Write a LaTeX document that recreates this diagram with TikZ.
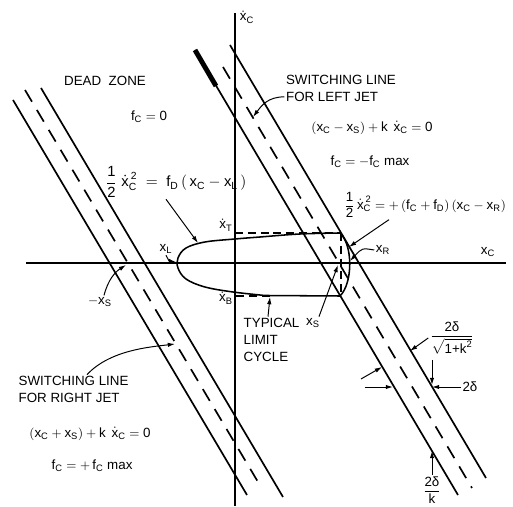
\documentclass[tikz,border=0pt]{standalone}
\usepackage{amsmath}
\usepackage{fontspec}
\setmainfont{Liberation Sans}
\usetikzlibrary{arrows.meta}
\newcommand{\vx}[1]{\text{x}_{\text{#1}}}
\newcommand{\vxd}[1]{\dot{\text{x}}_{\text{#1}}}
\newcommand{\vf}[1]{\text{f}_{\text{#1}}}
\newcommand{\half}{\dfrac{\text{1}}{\text{2}}}

\begin{document}
\begin{tikzpicture}[x=0.25mm,y=-0.25mm,
  lbl/.style={font=\fontsize{9.5}{12}\selectfont,inner sep=1pt},
  band/.style={line width=1.2pt},
  midline/.style={line width=1.2pt,dash pattern=on 3.4mm off 2.4mm},
  guide/.style={line width=0.9pt,dash pattern=on 2mm off 1.2mm},
  lead/.style={line width=0.7pt,-{Latex[length=1.8mm,width=1.1mm]}}]
  \useasboundingbox (0,0) rectangle (513,507);

  \draw[line width=1pt] (235,13) -- (235,506);
  \draw[line width=1pt] (26,263) -- (506,263);
  \node[lbl] (xdc) at (247,17) {$\vxd{C}$};
  \node[lbl] (xc) at (488,252) {$\vx{C}$};

  \draw[band] (195,50) -- (458,495);
  \draw[line width=3.5pt] (195,50) -- (216,86);
  \draw[midline] (223,67) -- (472,488);
  \draw[band] (230,45) -- (486,478);

  \draw[band] (13,100) -- (247,495);
  \draw[midline] (25,90) -- (261,487);
  \draw[band] (41,88) -- (283,497);

  \draw[guide] (235,233) -- (340,233);
  \draw[guide] (236,296) -- (273,296);
  \draw[guide] (341,233) -- (341,296);
  \draw[line width=1.1pt] plot[smooth,tension=0.6] coordinates {(340,233) (300,234)
    (260,237) (235,239) (205,242) (186,248) (178,258) (178,268) (186,279)
    (205,287) (233,292) (265,295.5)} -- (340,296)
    .. controls (353,283) and (353,245) .. (340,233);

  \node[lbl] (dead) at (105,81) {DEAD\ \ ZONE};
  \node[lbl] (fzero) at (149,117) {$\vf{C} = \text{0}$};
  \node[lbl,font=\fontsize{10.5}{12}\selectfont] (parL) at (176,182)
    {$\half\;\vxd{C}^{\,\text{2}} \;=\; \vf{D}\,(\,\vx{C} - \vx{L}\,)$};
  \node[lbl] (swL) at (341,88) [align=left] {SWITCHING LINE\\FOR LEFT JET};
  \node[lbl] (eqL) at (372,128)
    {$(\vx{C} - \vx{S}) + \text{k}\ \,\vxd{C} = \text{0}$};
  \node[lbl] (fL) at (370,162) {$\vf{C} = -\vf{C}\ \text{max}$};
  \node[lbl] (parR) at (425,205)
    {$\half\,\vxd{C}^{\,\text{2}} = +\,(\vf{C} + \vf{D})\,(\vx{C} - \vx{R})$};
  \node[lbl] (xT) at (226,225) {$\vxd{T}$};
  \node[lbl] (xB) at (226,298) {$\vxd{B}$};
  \node[lbl] (xL) at (166,249) {$\vx{L}$};
  \node[lbl] (xR) at (383,250) {$\vx{R}$};
  \node[lbl] (xS) at (313,323) {$\vx{S}$};
  \node[lbl] (mxS) at (100,302) {$-\vx{S}$};
  \node[lbl,anchor=west,align=left] (typ) at (242,340) {TYPICAL\\LIMIT\\CYCLE};
  \node[lbl,anchor=west,align=left] (swR) at (17,389.5)
    {SWITCHING LINE\\FOR RIGHT JET};
  \node[lbl] (eqR) at (90,434)
    {$(\vx{C} + \vx{S}) + \text{k}\ \,\vxd{C} = \text{0}$};
  \node[lbl] (fR) at (92,466) {$\vf{C} = +\,\vf{C}\ \text{max}$};
  \node[lbl] (sfrac) at (452,338) {$\dfrac{\text{2δ}}{\sqrt{\text{1+k}^{\text{2}}}}$};
  \node[lbl] (wid) at (470,387) {2δ};
  \node[lbl] (kfrac) at (432,490) {$\dfrac{\text{2δ}}{\text{k}}$};

  \coordinate (upL) at (198,243);
  \coordinate (vtx) at (176,262);
  \coordinate (arcR) at (349,247);
  \coordinate (xRpt) at (350,261);
  \coordinate (xSpt) at (338,265);
  \coordinate (botL) at (270,297);
  \coordinate (swLpt) at (253,117);
  \coordinate (mxSpt) at (126,265);
  \coordinate (swRpt) at (175,344);
  \coordinate (pa) at (361,379);
  \coordinate (pb) at (382,367);
  \coordinate (pc) at (410,351);
  \coordinate (ha) at (365,387);
  \coordinate (hb) at (393,387);
  \coordinate (hc) at (432,387);
  \coordinate (va) at (432,360);
  \coordinate (vb) at (432,385);
  \coordinate (vc) at (432,451);

  \draw[lead] ([xshift=-2.5mm]parL.south) -- (upL);
  \draw[lead] (xL.south) .. controls (169,261) .. (vtx);
  \draw[lead] ([xshift=-9mm]parR.south) -- (arcR);
  \draw[lead] (xR.west) .. controls (362,248) .. (xRpt);
  \draw[lead] ([xshift=1.5mm]xS.north) -- (xSpt);
  \draw[lead] ([xshift=6.5mm]typ.north west) -- (botL);
  \draw[lead] ([yshift=-2.2mm]swL.west) .. controls (268,97) and (262,105) .. (swLpt);
  \draw[lead] ([xshift=1mm]mxS.north) .. controls (108,280) and (115,272) .. (mxSpt);
  \draw[lead] ([xshift=17.5mm]swR.north west) .. controls (110,350) and (150,347) .. (swRpt);
  \draw[lead] (pa) -- (pb);
  \draw[lead] (sfrac.west) -- (pc);
  \draw[lead] (ha) -- (hb);
  \draw[lead] (wid.west) -- (hc);
  \draw[lead] (va) -- (vb);
  \draw[lead] (kfrac.north) -- (vc);
\end{tikzpicture}
\end{document}
